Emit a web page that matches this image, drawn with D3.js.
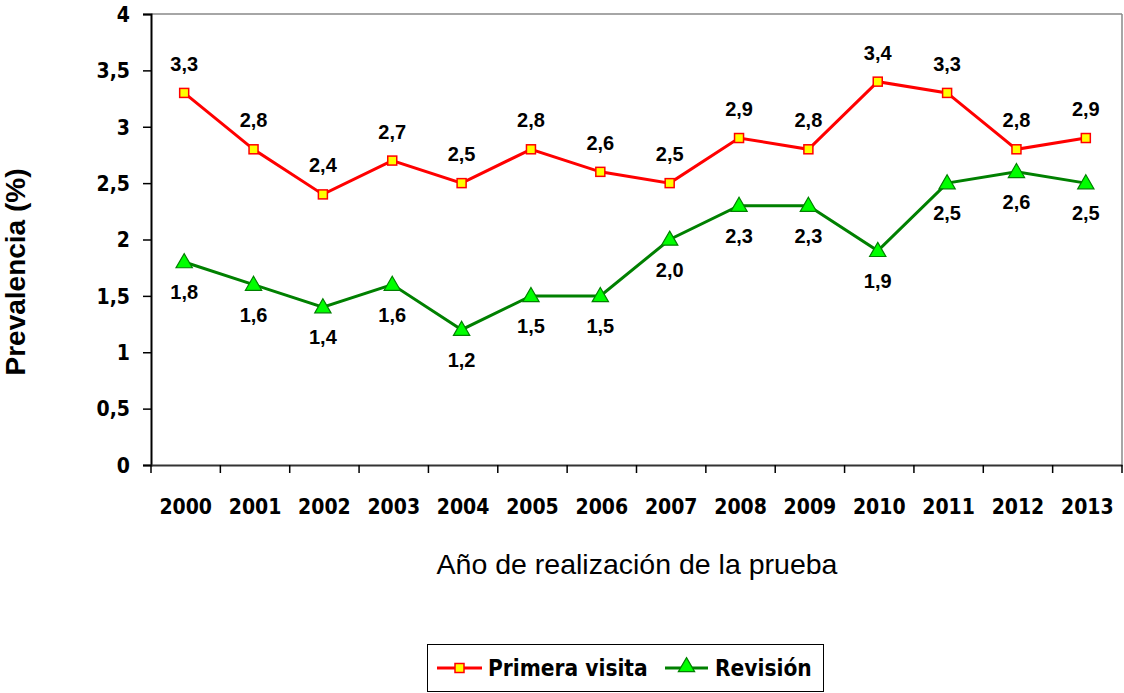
<!DOCTYPE html>
<html><head><meta charset="utf-8">
<script src="https://cdn.jsdelivr.net/npm/d3@7"></script>
<style>
body{margin:0;background:#fff;}
.tah{font-family:"DejaVu Sans Condensed","DejaVu Sans",sans-serif;font-weight:bold;font-stretch:condensed;}
.ari{font-family:"Liberation Sans",Arial,sans-serif;}
</style></head>
<body>
<svg id="c" width="1124" height="693"></svg>
<script>
const years = ["2000","2001","2002","2003","2004","2005","2006","2007","2008","2009","2010","2011","2012","2013"];
const primeraVisita = [3.3,2.8,2.4,2.7,2.5,2.8,2.6,2.5,2.9,2.8,3.4,3.3,2.8,2.9];
const revision = [1.8,1.6,1.4,1.6,1.2,1.5,1.5,2.0,2.3,2.3,1.9,2.5,2.6,2.5];
const yTicks = [0,0.5,1,1.5,2,2.5,3,3.5,4];
const seriesNames = ["Primera visita","Revisión"];

const svg = d3.select("#c");
const L=151, R=1122, T=14, B=465;
const x = d3.scaleBand().domain(years).range([L,R]);
const y = d3.scaleLinear().domain([0,4]).range([B,T]);
const fmt = v => d3.format(".1f")(v).replace(".",",");
const fmtT = v => String(v).replace(".",",");

// frame top/right
svg.append("line").attr("x1",L).attr("x2",R).attr("y1",T).attr("y2",T).attr("stroke","#888").attr("stroke-width",1.5);
svg.append("line").attr("x1",R).attr("x2",R).attr("y1",T).attr("y2",B).attr("stroke","#888").attr("stroke-width",1.5);

// y axis
const ya = svg.append("g").attr("transform",`translate(${L},0)`)
  .call(d3.axisLeft(y).tickValues(yTicks).tickFormat(fmtT).tickSize(8).tickPadding(13));
ya.select(".domain").attr("stroke","#000").attr("stroke-width",2);
ya.selectAll(".tick line").attr("stroke","#000").attr("stroke-width",1.5);
ya.selectAll("text").attr("class","tah").attr("font-size",21).attr("fill","#000").attr("dy","0.35em");

// x axis
const xa = svg.append("g").attr("transform",`translate(0,${B})`)
  .call(d3.axisBottom(x).tickSize(0).tickPadding(34));
xa.select(".domain").attr("stroke","#333").attr("stroke-width",2);
xa.selectAll("text").attr("class","tah").attr("font-size",21).attr("fill","#000");
const bounds = years.map(d=>x(d)).concat([R]);
xa.selectAll(".xt").data(bounds).enter().append("line").attr("class","xt")
  .attr("x1",d=>d).attr("x2",d=>d).attr("y1",0).attr("y2",8).attr("stroke","#000").attr("stroke-width",1.5);

const cx = d => x(d)+x.bandwidth()/2 - 1.5;
const line = d3.line().x((d,i)=>cx(years[i])).y(d=>y(d));

// series lines
svg.append("path").datum(primeraVisita).attr("d",line).attr("fill","none").attr("stroke","#ff0000").attr("stroke-width",3);
svg.append("path").datum(revision).attr("d",line).attr("fill","none").attr("stroke","#008000").attr("stroke-width",3);

const tri = d3.symbol().type(d3.symbolTriangle).size(115);

// markers
svg.selectAll(".m1").data(primeraVisita).enter().append("rect")
  .attr("x",(d,i)=>cx(years[i])-4.5).attr("y",d=>y(d)-4.5).attr("width",9).attr("height",9)
  .attr("fill","#ffff00").attr("stroke","#ff0000").attr("stroke-width",1.5);
svg.selectAll(".m2").data(revision).enter().append("path")
  .attr("d",tri).attr("transform",(d,i)=>`translate(${cx(years[i])},${y(d)+1})`)
  .attr("fill","#00ff00").attr("stroke","#008000").attr("stroke-width",1.2);

// labels
svg.selectAll(".l1").data(primeraVisita).enter().append("text").attr("class","ari")
  .attr("x",(d,i)=>cx(years[i])).attr("y",d=>y(d)-22).attr("text-anchor","middle")
  .attr("font-size",20).attr("font-weight","bold").text(fmt);
svg.selectAll(".l2").data(revision).enter().append("text").attr("class","ari")
  .attr("x",(d,i)=>cx(years[i])).attr("y",d=>y(d)+37).attr("text-anchor","middle")
  .attr("font-size",20).attr("font-weight","bold").text(fmt);

// axis titles
svg.append("text").attr("class","ari").attr("transform","translate(25,272) rotate(-90)")
  .attr("text-anchor","middle").attr("font-size",28).attr("font-weight","bold").text("Prevalencia (%)");
svg.append("text").attr("class","ari").attr("x",637).attr("y",574)
  .attr("text-anchor","middle").attr("font-size",28.5).text("Año de realización de la prueba");

// legend
const lg = svg.append("g");
lg.append("rect").attr("x",427.5).attr("y",644.5).attr("width",396).attr("height",47).attr("fill","#fff").attr("stroke","#000").attr("stroke-width",1);
lg.append("line").attr("x1",437).attr("x2",482).attr("y1",668).attr("y2",668).attr("stroke","#ff0000").attr("stroke-width",3);
lg.append("rect").attr("x",455).attr("y",663.5).attr("width",9).attr("height",9).attr("fill","#ffff00").attr("stroke","#ff0000").attr("stroke-width",1.5);
lg.append("text").attr("class","tah").attr("x",488).attr("y",676).attr("font-size",22.5).text(seriesNames[0]);
lg.append("line").attr("x1",665).attr("x2",708).attr("y1",668).attr("y2",668).attr("stroke","#008000").attr("stroke-width",3);
lg.append("path").attr("d",tri).attr("transform","translate(686.5,667)").attr("fill","#00ff00").attr("stroke","#008000").attr("stroke-width",1.2);
lg.append("text").attr("class","tah").attr("x",715).attr("y",676).attr("font-size",22.5).text(seriesNames[1]);
</script>
</body></html>
